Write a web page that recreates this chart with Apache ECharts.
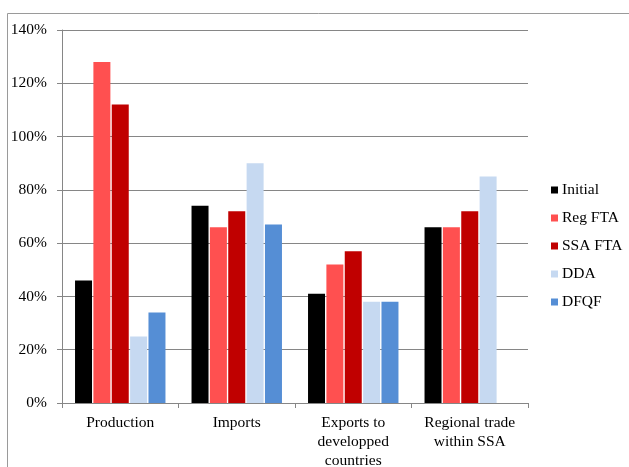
<!DOCTYPE html>
<html><head><meta charset="utf-8">
<script src="https://cdn.jsdelivr.net/npm/echarts@6/dist/echarts.min.js"></script>
<style>html,body{margin:0;padding:0;background:#fff}#c{width:629px;height:467px}</style>
</head><body><div id="c"></div>
<script>
const categories = ['Production', 'Imports', 'Exports to\ndevelopped\ncountries', 'Regional trade\nwithin SSA'];
const yTicks = [0, 20, 40, 60, 80, 100, 120, 140];
const initial = [46, 74, 41, 66];
const regFTA = [128, 66, 52, 66];
const ssaFTA = [112, 72, 57, 72];
const dda = [25, 90, 38, 85];
const dfqf = [34, 67, 38, null];

const seriesNames = ['Initial', 'Reg FTA', 'SSA FTA', 'DDA', 'DFQF'];
const seriesData = [initial, regFTA, ssaFTA, dda, dfqf];
const colors = ['#000000', '#FF5050', '#C00000', '#C6D9F1', '#558ED5'];
const serif = '"Liberation Serif", "DejaVu Serif", serif';

const chart = echarts.init(document.getElementById('c'), null, {renderer: 'canvas'});
chart.setOption({
  animation: false,
  color: colors,
  graphic: [{
    type: 'polyline', silent: true,
    shape: {points: [[7.5, 470], [7.5, 13.5], [640, 13.5]]},
    style: {stroke: '#9a9a9a', lineWidth: 1, fill: null}
  }],
  grid: {left: 62, right: 101, top: 30, bottom: 64, containLabel: false, outerBoundsMode: 'none'},
  legend: {
    orient: 'vertical', left: 546, top: 177,
    itemWidth: 7, itemHeight: 7, itemGap: 12,
    icon: 'rect',
    textStyle: {fontFamily: serif, fontSize: 15.5, color: '#000', padding: [0, 0, 0, -1]},
    data: seriesNames
  },
  xAxis: {
    type: 'category', data: categories,
    axisLine: {lineStyle: {color: '#868686', width: 1}},
    axisTick: {show: true, length: 5, lineStyle: {color: '#868686'}},
    axisLabel: {fontFamily: serif, fontSize: 15.5, color: '#000', lineHeight: 19, margin: 10, interval: 0}
  },
  yAxis: {
    type: 'value', min: yTicks[0], max: yTicks[yTicks.length - 1], interval: 20,
    axisLine: {show: true, lineStyle: {color: '#868686'}},
    axisTick: {show: true, length: 5, lineStyle: {color: '#868686'}},
    splitLine: {lineStyle: {color: '#868686', width: 1}},
    axisLabel: {fontFamily: serif, fontSize: 15.5, color: '#000', margin: 15, formatter: '{value}%'}
  },
  series: seriesNames.map((n, i) => ({
    name: n, type: 'bar', data: seriesData[i],
    barWidth: 17, barGap: '8%',
    itemStyle: {color: colors[i]}
  }))
});
</script></body></html>
